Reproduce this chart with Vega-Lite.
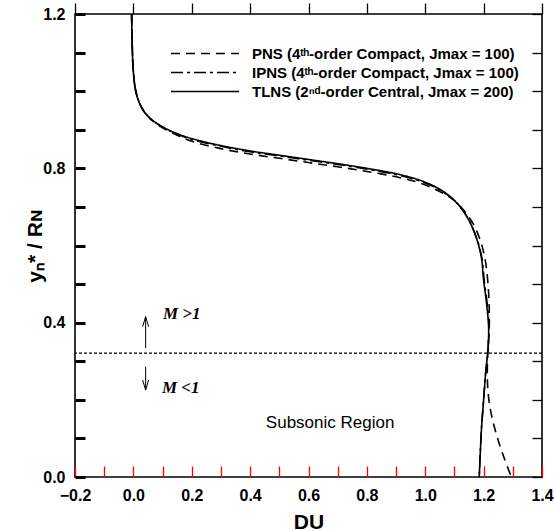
{
  "$schema": "https://vega.github.io/schema/vega-lite/v6.json",
  "width": 467,
  "height": 463,
  "autosize": {"type": "none"},
  "padding": {"left": 75, "top": 14, "right": 13, "bottom": 54},
  "background": "white",
  "config": {
    "view": {"stroke": "black", "strokeWidth": 1.6},
    "font": "Liberation Sans",
    "axis": {
      "domain": false, "grid": false,
      "labelFont": "Liberation Sans", "labelFontWeight": "bold", "labelFontSize": 16, "labelColor": "black",
      "titleFont": "Liberation Sans", "titleFontWeight": "bold", "titleFontSize": 21, "titleColor": "black",
      "labelFlush": false, "labelOverlap": false, "labelBound": false
    }
  },
  "resolve": {"axis": {"x": "independent", "y": "independent"}},
  "layer": [
    {
      "data": {"values": [
        {"method": "PNS", "i": 0, "du": -0.006, "y": 1.2},
        {"method": "PNS", "i": 1, "du": -0.004, "y": 1.12},
        {"method": "PNS", "i": 2, "du": 0.0, "y": 1.05},
        {"method": "PNS", "i": 3, "du": 0.01, "y": 0.995},
        {"method": "PNS", "i": 4, "du": 0.03, "y": 0.955},
        {"method": "PNS", "i": 5, "du": 0.06, "y": 0.927},
        {"method": "PNS", "i": 6, "du": 0.1, "y": 0.905},
        {"method": "PNS", "i": 7, "du": 0.15, "y": 0.886},
        {"method": "PNS", "i": 8, "du": 0.2, "y": 0.87},
        {"method": "PNS", "i": 9, "du": 0.3, "y": 0.851},
        {"method": "PNS", "i": 10, "du": 0.4, "y": 0.837},
        {"method": "PNS", "i": 11, "du": 0.5, "y": 0.826},
        {"method": "PNS", "i": 12, "du": 0.6, "y": 0.815},
        {"method": "PNS", "i": 13, "du": 0.7, "y": 0.804},
        {"method": "PNS", "i": 14, "du": 0.8, "y": 0.792},
        {"method": "PNS", "i": 15, "du": 0.9, "y": 0.778},
        {"method": "PNS", "i": 16, "du": 0.97, "y": 0.765},
        {"method": "PNS", "i": 17, "du": 1.03, "y": 0.747},
        {"method": "PNS", "i": 18, "du": 1.09, "y": 0.722},
        {"method": "PNS", "i": 19, "du": 1.13, "y": 0.693},
        {"method": "PNS", "i": 20, "du": 1.165, "y": 0.655},
        {"method": "PNS", "i": 21, "du": 1.19, "y": 0.61},
        {"method": "PNS", "i": 22, "du": 1.206, "y": 0.56},
        {"method": "PNS", "i": 23, "du": 1.215, "y": 0.5},
        {"method": "PNS", "i": 24, "du": 1.219, "y": 0.44},
        {"method": "PNS", "i": 25, "du": 1.219, "y": 0.38},
        {"method": "PNS", "i": 26, "du": 1.214, "y": 0.32},
        {"method": "PNS", "i": 27, "du": 1.213, "y": 0.25},
        {"method": "PNS", "i": 28, "du": 1.218, "y": 0.2},
        {"method": "PNS", "i": 29, "du": 1.23, "y": 0.15},
        {"method": "PNS", "i": 30, "du": 1.248, "y": 0.1},
        {"method": "PNS", "i": 31, "du": 1.27, "y": 0.05},
        {"method": "PNS", "i": 32, "du": 1.295, "y": 0.0},

        {"method": "IPNS", "i": 0, "du": -0.006, "y": 1.2},
        {"method": "IPNS", "i": 1, "du": -0.004, "y": 1.12},
        {"method": "IPNS", "i": 2, "du": 0.0, "y": 1.05},
        {"method": "IPNS", "i": 3, "du": 0.009, "y": 0.998},
        {"method": "IPNS", "i": 4, "du": 0.027, "y": 0.96},
        {"method": "IPNS", "i": 5, "du": 0.053, "y": 0.932},
        {"method": "IPNS", "i": 6, "du": 0.093, "y": 0.91},
        {"method": "IPNS", "i": 7, "du": 0.143, "y": 0.891},
        {"method": "IPNS", "i": 8, "du": 0.2, "y": 0.875},
        {"method": "IPNS", "i": 9, "du": 0.3, "y": 0.857},
        {"method": "IPNS", "i": 10, "du": 0.4, "y": 0.843},
        {"method": "IPNS", "i": 11, "du": 0.5, "y": 0.832},
        {"method": "IPNS", "i": 12, "du": 0.6, "y": 0.821},
        {"method": "IPNS", "i": 13, "du": 0.7, "y": 0.81},
        {"method": "IPNS", "i": 14, "du": 0.8, "y": 0.798},
        {"method": "IPNS", "i": 15, "du": 0.9, "y": 0.784},
        {"method": "IPNS", "i": 16, "du": 0.97, "y": 0.77},
        {"method": "IPNS", "i": 17, "du": 1.03, "y": 0.752},
        {"method": "IPNS", "i": 18, "du": 1.082, "y": 0.728},
        {"method": "IPNS", "i": 19, "du": 1.122, "y": 0.698},
        {"method": "IPNS", "i": 20, "du": 1.152, "y": 0.662},
        {"method": "IPNS", "i": 21, "du": 1.177, "y": 0.617},
        {"method": "IPNS", "i": 22, "du": 1.194, "y": 0.568},
        {"method": "IPNS", "i": 23, "du": 1.202, "y": 0.51},
        {"method": "IPNS", "i": 24, "du": 1.212, "y": 0.45},
        {"method": "IPNS", "i": 25, "du": 1.218, "y": 0.39},
        {"method": "IPNS", "i": 26, "du": 1.215, "y": 0.33},
        {"method": "IPNS", "i": 27, "du": 1.207, "y": 0.27},
        {"method": "IPNS", "i": 28, "du": 1.2, "y": 0.2},
        {"method": "IPNS", "i": 29, "du": 1.193, "y": 0.13},
        {"method": "IPNS", "i": 30, "du": 1.189, "y": 0.07},
        {"method": "IPNS", "i": 31, "du": 1.185, "y": 0.0},

        {"method": "TLNS", "i": 0, "du": -0.006, "y": 1.2},
        {"method": "TLNS", "i": 1, "du": -0.004, "y": 1.12},
        {"method": "TLNS", "i": 2, "du": 0.0, "y": 1.05},
        {"method": "TLNS", "i": 3, "du": 0.008, "y": 1.0},
        {"method": "TLNS", "i": 4, "du": 0.025, "y": 0.962},
        {"method": "TLNS", "i": 5, "du": 0.05, "y": 0.935},
        {"method": "TLNS", "i": 6, "du": 0.09, "y": 0.912},
        {"method": "TLNS", "i": 7, "du": 0.14, "y": 0.893},
        {"method": "TLNS", "i": 8, "du": 0.2, "y": 0.877},
        {"method": "TLNS", "i": 9, "du": 0.3, "y": 0.859},
        {"method": "TLNS", "i": 10, "du": 0.4, "y": 0.845},
        {"method": "TLNS", "i": 11, "du": 0.5, "y": 0.834},
        {"method": "TLNS", "i": 12, "du": 0.6, "y": 0.823},
        {"method": "TLNS", "i": 13, "du": 0.7, "y": 0.812},
        {"method": "TLNS", "i": 14, "du": 0.8, "y": 0.8},
        {"method": "TLNS", "i": 15, "du": 0.9, "y": 0.786},
        {"method": "TLNS", "i": 16, "du": 0.97, "y": 0.772},
        {"method": "TLNS", "i": 17, "du": 1.03, "y": 0.754},
        {"method": "TLNS", "i": 18, "du": 1.08, "y": 0.73},
        {"method": "TLNS", "i": 19, "du": 1.12, "y": 0.7},
        {"method": "TLNS", "i": 20, "du": 1.15, "y": 0.665},
        {"method": "TLNS", "i": 21, "du": 1.175, "y": 0.62},
        {"method": "TLNS", "i": 22, "du": 1.192, "y": 0.57},
        {"method": "TLNS", "i": 23, "du": 1.2, "y": 0.51},
        {"method": "TLNS", "i": 24, "du": 1.21, "y": 0.45},
        {"method": "TLNS", "i": 25, "du": 1.217, "y": 0.39},
        {"method": "TLNS", "i": 26, "du": 1.215, "y": 0.33},
        {"method": "TLNS", "i": 27, "du": 1.207, "y": 0.27},
        {"method": "TLNS", "i": 28, "du": 1.2, "y": 0.2},
        {"method": "TLNS", "i": 29, "du": 1.193, "y": 0.13},
        {"method": "TLNS", "i": 30, "du": 1.189, "y": 0.07},
        {"method": "TLNS", "i": 31, "du": 1.185, "y": 0.0}
      ]},
      "mark": {"type": "line", "interpolate": "catmull-rom", "strokeWidth": 1.6, "color": "black"},
      "encoding": {
        "x": {
          "field": "du", "type": "quantitative",
          "scale": {"domain": [-0.2, 1.4], "nice": false, "zero": false},
          "axis": {
            "orient": "bottom",
            "values": [-0.2, -0.1, 0, 0.1, 0.2, 0.3, 0.4, 0.5, 0.6, 0.7, 0.8, 0.9, 1.0, 1.1, 1.2, 1.3, 1.4],
            "labelExpr": "abs(round(datum.value*10)) % 2 == 0 ? format(datum.value, '.1f') : ''",
            "tickSize": -11,
            "tickColor": "red",
            "tickWidth": 1.3,
            "labelPadding": 21,
            "title": "DU",
            "titleBaseline": "alphabetic",
            "titleY": 51
          }
        },
        "y": {
          "field": "y", "type": "quantitative",
          "scale": {"domain": [0, 1.2], "nice": false, "zero": false},
          "axis": {
            "orient": "left",
            "values": [0, 0.1, 0.2, 0.3, 0.4, 0.5, 0.6, 0.7, 0.8, 0.9, 1.0, 1.1, 1.2],
            "labelExpr": "abs(round(datum.value*10)) % 4 == 0 ? format(datum.value, '.1f') : ''",
            "tickSize": -10,
            "tickColor": "black",
            "tickWidth": 3,
            "labelPadding": 20,
            "title": "yₙ* / Rɴ",
            "titleX": -30,
            "titleY": 231.5
          }
        },
        "strokeDash": {
          "field": "method", "type": "nominal",
          "scale": {"domain": ["PNS", "IPNS", "TLNS"], "range": [[9, 6], [12, 4, 3, 4], [1, 0]]},
          "legend": {
            "title": null,
            "orient": "none",
            "legendX": 120.5,
            "legendY": 30,
            "padding": 0,
            "symbolType": "M-4,0L4,0",
            "symbolSize": 289,
            "symbolStrokeWidth": 1.5,
            "symbolStrokeColor": "black",
            "symbolFillColor": "transparent",
            "labelFont": "Liberation Sans",
            "labelFontWeight": "bold",
            "labelFontSize": 15,
            "labelColor": "black",
            "labelOffset": 37.5,
            "rowPadding": 1,
            "labelLimit": 400,
            "labelExpr": "datum.label == 'PNS' ? 'PNS (4ᵗʰ-order Compact, Jmax = 100)' : datum.label == 'IPNS' ? 'IPNS (4ᵗʰ-order Compact, Jmax = 100)' : 'TLNS (2ⁿᵈ-order Central, Jmax = 200)'"
          }
        },
        "order": {"field": "i", "type": "quantitative"}
      }
    },
    {
      "data": {"values": [{"y": 0.321}]},
      "mark": {"type": "rule", "strokeDash": [3, 2], "strokeWidth": 1.3, "color": "black"},
      "encoding": {
        "y": {
          "field": "y", "type": "quantitative",
          "scale": {"domain": [0, 1.2], "nice": false, "zero": false},
          "axis": {
            "orient": "right",
            "values": [0, 0.1, 0.2, 0.3, 0.4, 0.5, 0.6, 0.7, 0.8, 0.9, 1.0, 1.1, 1.2],
            "labels": false,
            "tickSize": 10,
            "offset": -10,
            "tickColor": "black",
            "tickWidth": 1.3,
            "title": null
          }
        }
      }
    },
    {
      "data": {"values": [
        {"x": 0.042, "y": 0.334, "y2": 0.4155},
        {"x": 0.042, "y": 0.286, "y2": 0.2255}
      ]},
      "mark": {"type": "rule", "strokeWidth": 1, "color": "black"},
      "encoding": {
        "x": {
          "field": "x", "type": "quantitative",
          "scale": {"domain": [-0.2, 1.4], "nice": false, "zero": false},
          "axis": {
            "orient": "top",
            "values": [-0.2, 0, 0.2, 0.4, 0.6, 0.8, 1.0, 1.2, 1.4],
            "labels": false,
            "tickSize": 11,
            "tickColor": "black",
            "tickWidth": 1.3,
            "title": null
          }
        },
        "y": {"field": "y", "type": "quantitative", "scale": {"domain": [0, 1.2], "nice": false, "zero": false}, "axis": null},
        "y2": {"field": "y2"}
      }
    },
    {
      "data": {"values": [
        {"x": 0.042, "y": 0.4155, "dir": "up"},
        {"x": 0.042, "y": 0.2255, "dir": "down"}
      ]},
      "mark": {"type": "point", "filled": false, "size": 400, "strokeWidth": 1, "color": "black", "opacity": 1},
      "encoding": {
        "x": {"field": "x", "type": "quantitative", "scale": {"domain": [-0.2, 1.4], "nice": false, "zero": false}, "axis": null},
        "y": {"field": "y", "type": "quantitative", "scale": {"domain": [0, 1.2], "nice": false, "zero": false}, "axis": null},
        "shape": {
          "field": "dir", "type": "nominal",
          "scale": {"domain": ["up", "down"], "range": ["M-0.3,1L0,0L0.3,1", "M-0.3,-1L0,0L0.3,-1"]},
          "legend": null
        }
      }
    },
    {
      "data": {"values": [
        {"x": 0.1015, "y": 0.4225, "t": "M >1"},
        {"x": 0.098, "y": 0.2307, "t": "M <1"}
      ]},
      "mark": {"type": "text", "align": "left", "baseline": "middle", "font": "Liberation Serif", "fontStyle": "italic", "fontWeight": "bold", "fontSize": 17, "color": "black"},
      "encoding": {
        "x": {"field": "x", "type": "quantitative", "scale": {"domain": [-0.2, 1.4], "nice": false, "zero": false}, "axis": null},
        "y": {"field": "y", "type": "quantitative", "scale": {"domain": [0, 1.2], "nice": false, "zero": false}, "axis": null},
        "text": {"field": "t"}
      }
    },
    {
      "data": {"values": [{"x": 0.674, "y": 0.1387, "t": "Subsonic Region"}]},
      "mark": {"type": "text", "align": "center", "baseline": "middle", "font": "Liberation Sans", "fontSize": 17, "color": "black"},
      "encoding": {
        "x": {"field": "x", "type": "quantitative", "scale": {"domain": [-0.2, 1.4], "nice": false, "zero": false}, "axis": null},
        "y": {"field": "y", "type": "quantitative", "scale": {"domain": [0, 1.2], "nice": false, "zero": false}, "axis": null},
        "text": {"field": "t"}
      }
    }
  ]
}
